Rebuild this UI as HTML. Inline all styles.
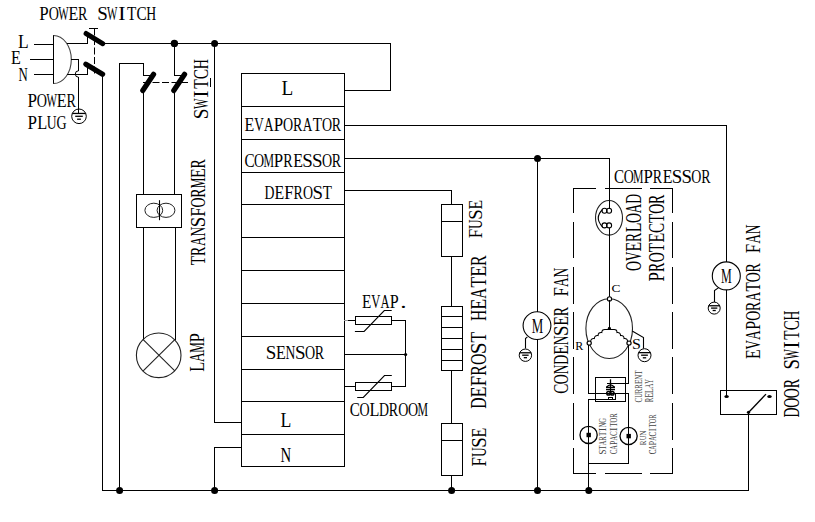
<!DOCTYPE html>
<html><head><meta charset="utf-8"><style>
html,body{margin:0;padding:0;background:#fff;width:815px;height:522px;overflow:hidden}
svg{display:block}
text{font-family:"Liberation Serif",serif;font-size:100px}
</style></head><body>
<svg width="815" height="522" viewBox="0 0 815 522">
<rect x="0" y="0" width="815" height="522" fill="#fff"/>
<g fill="#000">
<rect x="34" y="44" width="20" height="1"/>
<rect x="30" y="59" width="24" height="1"/>
<rect x="34" y="74" width="20" height="1"/>
<rect x="53" y="35" width="1" height="49"/>
<path d="M53.5,35.5 A17.8,24 0 0 1 53.5,83.5" fill="none" stroke="#444" stroke-width="1.1"/>
<rect x="67" y="43" width="21" height="1"/>
<rect x="87" y="36" width="1" height="8"/>
<line x1="86.2" y1="33.6" x2="102.6" y2="43.6" stroke="#000" stroke-width="5.2" stroke-linecap="round"/>
<rect x="89" y="28" width="9" height="1"/>
<line x1="94.5" y1="28.5" x2="94.5" y2="74.5" stroke="#000" stroke-width="1" stroke-dasharray="7,2.5"/>
<line x1="85.9" y1="64.2" x2="102.6" y2="74.2" stroke="#000" stroke-width="5.2" stroke-linecap="round"/>
<rect x="67" y="74" width="21" height="1"/>
<rect x="87" y="67" width="1" height="8"/>
<rect x="102" y="74" width="1" height="417"/>
<rect x="71" y="59" width="8" height="1"/>
<rect x="78" y="59" width="1" height="12"/>
<path d="M78.5,70.8 A3.1,3.1 0 0 0 78.5,77.2" fill="none" stroke="#000" stroke-width="1"/>
<rect x="78" y="77" width="1" height="37"/>
<circle cx="79" cy="116.3" r="7.3" fill="none" stroke="#000" stroke-width="1.0"/>
<line x1="72.211" y1="113.453" x2="85.789" y2="113.453" stroke="#000" stroke-width="1.3" stroke-linecap="butt"/>
<line x1="75.204" y1="116.3" x2="82.796" y2="116.3" stroke="#000" stroke-width="1.3" stroke-linecap="butt"/>
<line x1="77.102" y1="119.22" x2="80.898" y2="119.22" stroke="#000" stroke-width="1.3" stroke-linecap="butt"/>
<rect x="103" y="43" width="288" height="1"/>
<circle cx="174.4" cy="43.4" r="3.7"/>
<circle cx="214.6" cy="43.5" r="3.5"/>
<rect x="390" y="43" width="1" height="48"/>
<rect x="344" y="90" width="47" height="1"/>
<rect x="119" y="63" width="1" height="428"/>
<rect x="119" y="63" width="25" height="1"/>
<rect x="143" y="63" width="1" height="13"/>
<rect x="143" y="75" width="7" height="1"/>
<line x1="142.8" y1="90.5" x2="153.6" y2="74.3" stroke="#000" stroke-width="5.2" stroke-linecap="round"/>
<rect x="143" y="91" width="1" height="104"/>
<rect x="174" y="43" width="1" height="33"/>
<rect x="174" y="75" width="7" height="1"/>
<line x1="173.8" y1="90.5" x2="184.6" y2="74.3" stroke="#000" stroke-width="5.2" stroke-linecap="round"/>
<rect x="174" y="91" width="1" height="104"/>
<line x1="143" y1="82.5" x2="190" y2="82.5" stroke="#000" stroke-width="1" stroke-dasharray="7,2.5"/>
<rect x="136" y="194" width="46" height="1"/>
<rect x="136" y="227" width="46" height="1"/>
<rect x="136" y="194" width="1" height="34"/>
<rect x="181" y="194" width="1" height="34"/>
<ellipse cx="153.8" cy="210.3" rx="8.9" ry="7.1" fill="none" stroke="#222" stroke-width="1.0"/>
<ellipse cx="166.0" cy="210.3" rx="8.9" ry="7.1" fill="none" stroke="#222" stroke-width="1.0"/>
<line x1="159.5" y1="200.2" x2="159.5" y2="220.2" stroke="#000" stroke-width="1.1" stroke-linecap="butt"/>
<rect x="143" y="227" width="1" height="113"/>
<rect x="175" y="227" width="1" height="113"/>
<circle cx="158.7" cy="355.3" r="22.3" fill="none" stroke="#222" stroke-width="1.1"/>
<line x1="143.2" y1="339.7" x2="174.8" y2="370.9" stroke="#222" stroke-width="1.1" stroke-linecap="butt"/>
<line x1="174.8" y1="339.7" x2="143.2" y2="370.9" stroke="#222" stroke-width="1.1" stroke-linecap="butt"/>
<rect x="214" y="43" width="1" height="380"/>
<rect x="214" y="422" width="28" height="1"/>
<rect x="214" y="447" width="28" height="1"/>
<rect x="214" y="447" width="1" height="44"/>
<circle cx="119.6" cy="490.4" r="3.5"/>
<circle cx="214.6" cy="490.4" r="3.5"/>
<rect x="102" y="490" width="647" height="1"/>
<rect x="241" y="73" width="1" height="394"/>
<rect x="344" y="73" width="1" height="394"/>
<rect x="241" y="73" width="104" height="1"/>
<rect x="241" y="106" width="104" height="1"/>
<rect x="241" y="139" width="104" height="1"/>
<rect x="241" y="172" width="104" height="1"/>
<rect x="241" y="204" width="104" height="1"/>
<rect x="241" y="237" width="104" height="1"/>
<rect x="241" y="270" width="104" height="1"/>
<rect x="241" y="303" width="104" height="1"/>
<rect x="241" y="336" width="104" height="1"/>
<rect x="241" y="369" width="104" height="1"/>
<rect x="241" y="401" width="104" height="1"/>
<rect x="241" y="434" width="104" height="1"/>
<rect x="241" y="466" width="104" height="1"/>
<rect x="344" y="125" width="383" height="1"/>
<rect x="726" y="125" width="1" height="137"/>
<rect x="344" y="158" width="266" height="1"/>
<rect x="609" y="158" width="1" height="43"/>
<circle cx="537.5" cy="158.4" r="3.5"/>
<rect x="537" y="158" width="1" height="154"/>
<rect x="537" y="339" width="1" height="152"/>
<circle cx="537.5" cy="490.4" r="3.5"/>
<rect x="344" y="190" width="108" height="1"/>
<rect x="451" y="190" width="1" height="15"/>
<rect x="344" y="320" width="4" height="1" fill="#999"/>
<rect x="348" y="320" width="7" height="1"/>
<rect x="355" y="316" width="37" height="1"/>
<rect x="355" y="324" width="37" height="1"/>
<rect x="355" y="316" width="1" height="9"/>
<rect x="391" y="316" width="1" height="9"/>
<rect x="391" y="320" width="15" height="1"/>
<rect x="405" y="320" width="1" height="67"/>
<path d="M354.9,331.5 H364.1 L384.3,310.5 H391.7" fill="none" stroke="#000" stroke-width="1.1"/>
<rect x="344" y="354" width="62" height="1"/>
<circle cx="405.6" cy="354.5" r="1.6"/>
<rect x="344" y="386" width="12" height="1"/>
<rect x="355" y="382" width="37" height="1"/>
<rect x="355" y="390" width="37" height="1"/>
<rect x="355" y="382" width="1" height="9"/>
<rect x="391" y="382" width="1" height="9"/>
<rect x="391" y="386" width="15" height="1"/>
<path d="M357.2,397.5 H363.3 L384.5,375.5 H391.8" fill="none" stroke="#000" stroke-width="1.1"/>
<rect x="441" y="204" width="22" height="1"/>
<rect x="441" y="256" width="22" height="1"/>
<rect x="441" y="204" width="1" height="53"/>
<rect x="462" y="204" width="1" height="53"/>
<rect x="441" y="221" width="22" height="1"/>
<rect x="451" y="256" width="1" height="51"/>
<rect x="441" y="306" width="22" height="1"/>
<rect x="441" y="370" width="22" height="1"/>
<rect x="441" y="306" width="1" height="65"/>
<rect x="462" y="306" width="1" height="65"/>
<rect x="441" y="316" width="22" height="1"/>
<rect x="441" y="327" width="22" height="1"/>
<rect x="441" y="338" width="22" height="1"/>
<rect x="441" y="349" width="22" height="1"/>
<rect x="441" y="360" width="22" height="1"/>
<rect x="451" y="370" width="1" height="53"/>
<rect x="441" y="423" width="22" height="1"/>
<rect x="441" y="475" width="22" height="1"/>
<rect x="441" y="423" width="1" height="53"/>
<rect x="462" y="423" width="1" height="53"/>
<rect x="441" y="440" width="22" height="1"/>
<rect x="451" y="475" width="1" height="16"/>
<circle cx="451.6" cy="490.4" r="3.5"/>
<circle cx="537" cy="325.6" r="13.9" fill="none" stroke="#000" stroke-width="1.1"/>
<path d="M527.4,336.9 L525.5,338.5 V348.5" fill="none" stroke="#000" stroke-width="1.1"/>
<circle cx="525.4" cy="355.2" r="6.2" fill="none" stroke="#000" stroke-width="1.0"/>
<line x1="519.634" y1="352.782" x2="531.1659999999999" y2="352.782" stroke="#000" stroke-width="1.3" stroke-linecap="butt"/>
<line x1="522.1759999999999" y1="355.2" x2="528.624" y2="355.2" stroke="#000" stroke-width="1.3" stroke-linecap="butt"/>
<line x1="523.788" y1="357.68" x2="527.012" y2="357.68" stroke="#000" stroke-width="1.3" stroke-linecap="butt"/>
<rect x="573" y="188" width="23" height="1"/>
<rect x="573" y="473" width="23" height="1"/>
<rect x="605" y="188" width="37" height="1"/>
<rect x="605" y="473" width="37" height="1"/>
<rect x="650" y="188" width="23" height="1"/>
<rect x="650" y="473" width="23" height="1"/>
<rect x="573" y="188" width="1" height="25"/>
<rect x="672" y="188" width="1" height="25"/>
<rect x="573" y="222" width="1" height="36"/>
<rect x="672" y="222" width="1" height="36"/>
<rect x="573" y="267" width="1" height="37"/>
<rect x="672" y="267" width="1" height="37"/>
<rect x="573" y="312" width="1" height="37"/>
<rect x="672" y="312" width="1" height="37"/>
<rect x="573" y="357" width="1" height="37"/>
<rect x="672" y="357" width="1" height="37"/>
<rect x="573" y="403" width="1" height="37"/>
<rect x="672" y="403" width="1" height="37"/>
<rect x="573" y="448" width="1" height="26"/>
<rect x="672" y="448" width="1" height="26"/>
<ellipse cx="609" cy="217.8" rx="13.5" ry="17.3" fill="none" stroke="#222" stroke-width="1.1"/>
<rect x="609" y="200" width="1" height="9"/>
<circle cx="604.5" cy="210.8" r="2.5" fill="none" stroke="#000" stroke-width="1.1"/>
<circle cx="609.1" cy="210.8" r="2.5" fill="none" stroke="#000" stroke-width="1.1"/>
<circle cx="604.5" cy="225.4" r="2.5" fill="none" stroke="#000" stroke-width="1.1"/>
<circle cx="609.1" cy="225.4" r="2.5" fill="none" stroke="#000" stroke-width="1.1"/>
<path d="M602.5,209.5 Q594,218 602.5,226.8" fill="none" stroke="#000" stroke-width="1.1"/>
<rect x="609" y="228" width="1" height="71"/>
<ellipse cx="609.2" cy="328.6" rx="23.3" ry="29.9" fill="none" stroke="#222" stroke-width="1.1"/>
<circle cx="609.5" cy="298.9" r="2.1" fill="#fff" stroke="#000" stroke-width="1.1"/>
<rect x="609" y="300" width="1" height="29"/>
<circle cx="609.4" cy="328.4" r="1.6"/>
<path d="M605.50,329.50 Q602.00,328.99 601.77,332.52 Q598.27,332.02 598.05,335.55 Q594.55,335.04 594.33,338.58 Q590.82,338.07 590.60,341.60" fill="none" stroke="#000" stroke-width="1.1"/>
<rect x="605" y="329" width="5" height="1"/>
<path d="M613.50,329.50 Q616.96,329.04 617.02,332.52 Q620.48,332.06 620.55,335.55 Q624.01,335.09 624.08,338.58 Q627.53,338.11 627.60,341.60" fill="none" stroke="#000" stroke-width="1.1"/>
<rect x="609" y="329" width="5" height="1"/>
<circle cx="589.2" cy="343.1" r="2.1" fill="#fff" stroke="#000" stroke-width="1.2"/>
<circle cx="629" cy="343.1" r="2.1" fill="#fff" stroke="#000" stroke-width="1.2"/>
<path d="M632.2,331.1 L643.5,337.5 V348.5" fill="none" stroke="#000" stroke-width="1.1"/>
<circle cx="644.5" cy="355.2" r="6.5" fill="none" stroke="#000" stroke-width="1.0"/>
<line x1="638.455" y1="352.66499999999996" x2="650.545" y2="352.66499999999996" stroke="#000" stroke-width="1.3" stroke-linecap="butt"/>
<line x1="641.12" y1="355.2" x2="647.88" y2="355.2" stroke="#000" stroke-width="1.3" stroke-linecap="butt"/>
<line x1="642.81" y1="357.8" x2="646.19" y2="357.8" stroke="#000" stroke-width="1.3" stroke-linecap="butt"/>
<rect x="588" y="345" width="1" height="49"/>
<rect x="588" y="393" width="41" height="1"/>
<rect x="628" y="393" width="1" height="70"/>
<rect x="628" y="345" width="1" height="39"/>
<rect x="607" y="383" width="22" height="1"/>
<rect x="595" y="377" width="31" height="1"/>
<rect x="595" y="401" width="31" height="1"/>
<rect x="595" y="377" width="1" height="25"/>
<rect x="625" y="377" width="1" height="25"/>
<line x1="610.5" y1="379.3" x2="610.5" y2="394.8" stroke="#000" stroke-width="1.3" stroke-linecap="butt"/>
<path d="M606.5,387.3 Q610.5,382.5 614.5,387.3" fill="none" stroke="#000" stroke-width="1.4"/>
<path d="M606,387.5 h9 M606,389.6 h9" fill="none" stroke="#000" stroke-width="1.3"/>
<circle cx="608.5" cy="393.2" r="1.8" fill="none" stroke="#000" stroke-width="1.5"/>
<circle cx="612.3" cy="393.2" r="1.8" fill="none" stroke="#000" stroke-width="1.5"/>
<rect x="588" y="399" width="28" height="1"/>
<rect x="615" y="393" width="1" height="7"/>
<rect x="608" y="397" width="5" height="1"/>
<rect x="608" y="399" width="5" height="1"/>
<rect x="608" y="397" width="1" height="3"/>
<rect x="612" y="397" width="1" height="3"/>
<rect x="588" y="399" width="1" height="92"/>
<circle cx="588.8" cy="490.4" r="3.5"/>
<circle cx="588.6" cy="434.9" r="8.6" fill="none" stroke="#000" stroke-width="1.3"/>
<rect x="586.5" y="432.8" width="4.4" height="4.4"/>
<circle cx="628.6" cy="436.0" r="8.6" fill="none" stroke="#000" stroke-width="1.3"/>
<rect x="626.5" y="433.9" width="4.4" height="4.4"/>
<rect x="588" y="463" width="41" height="1"/>
<rect x="726" y="290" width="1" height="107"/>
<circle cx="726.3" cy="275.9" r="14" fill="none" stroke="#000" stroke-width="1.1"/>
<path d="M719,287.4 L714.5,290.5 V302" fill="none" stroke="#000" stroke-width="1.1"/>
<circle cx="714.2" cy="308.1" r="6.0" fill="none" stroke="#000" stroke-width="1.0"/>
<line x1="708.62" y1="305.76000000000005" x2="719.7800000000001" y2="305.76000000000005" stroke="#000" stroke-width="1.3" stroke-linecap="butt"/>
<line x1="711.08" y1="308.1" x2="717.32" y2="308.1" stroke="#000" stroke-width="1.3" stroke-linecap="butt"/>
<line x1="712.6400000000001" y1="310.5" x2="715.76" y2="310.5" stroke="#000" stroke-width="1.3" stroke-linecap="butt"/>
<rect x="720" y="390" width="57" height="1"/>
<rect x="720" y="414" width="57" height="1"/>
<rect x="720" y="390" width="1" height="25"/>
<rect x="776" y="390" width="1" height="25"/>
<ellipse cx="726.6" cy="396.5" rx="2.2" ry="1.6"/>
<ellipse cx="769.5" cy="396.5" rx="2.2" ry="1.6"/>
<line x1="748.5" y1="412.5" x2="766" y2="394.1" stroke="#000" stroke-width="1.3" stroke-linecap="butt"/>
<circle cx="748.5" cy="412.3" r="1.6"/>
<rect x="748" y="413" width="1" height="78"/>
</g>
<g>
<text transform="translate(39.29,19.60) scale(0.1697,0.1877)">P</text>
<text transform="translate(48.65,19.60) scale(0.1405,0.1877)">O</text>
<text transform="translate(58.29,19.60) scale(0.1101,0.1877)">W</text>
<text transform="translate(68.49,19.60) scale(0.1603,0.1877)">E</text>
<text transform="translate(78.06,19.60) scale(0.1405,0.1877)">R</text>
<text transform="translate(97.15,19.60) scale(0.1904,0.1877)">S</text>
<text transform="translate(107.06,19.60) scale(0.1101,0.1877)">W</text>
<text transform="translate(118.30,19.60) scale(0.2176,0.1877)">I</text>
<text transform="translate(127.11,19.60) scale(0.1522,0.1877)">T</text>
<text transform="translate(136.56,19.60) scale(0.1522,0.1877)">C</text>
<text transform="translate(146.30,19.60) scale(0.1376,0.1877)">H</text>
<text transform="translate(17.88,47.90) scale(0.1750,0.1985)">L</text>
<text transform="translate(11.02,64.30) scale(0.1604,0.1846)">E</text>
<text transform="translate(18.51,81.00) scale(0.1284,0.1892)">N</text>
<text transform="translate(27.39,106.80) scale(0.1708,0.1969)">P</text>
<text transform="translate(36.81,106.80) scale(0.1415,0.1969)">O</text>
<text transform="translate(46.52,106.80) scale(0.1109,0.1969)">W</text>
<text transform="translate(56.79,106.80) scale(0.1614,0.1969)">E</text>
<text transform="translate(66.42,106.80) scale(0.1415,0.1969)">R</text>
<text transform="translate(27.39,128.70) scale(0.1708,0.1923)">P</text>
<text transform="translate(37.16,128.70) scale(0.1636,0.1923)">L</text>
<text transform="translate(46.84,128.70) scale(0.1358,0.1923)">U</text>
<text transform="translate(56.44,128.70) scale(0.1400,0.1923)">G</text>
<text transform="translate(281.62,95.20) scale(0.1923,0.2200)">L</text>
<text transform="translate(244.52,130.60) scale(0.1597,0.1877)">E</text>
<text transform="translate(254.21,130.60) scale(0.1319,0.1877)">V</text>
<text transform="translate(263.93,130.60) scale(0.1319,0.1877)">A</text>
<text transform="translate(273.75,130.60) scale(0.1691,0.1877)">P</text>
<text transform="translate(283.07,130.60) scale(0.1400,0.1877)">O</text>
<text transform="translate(292.94,130.60) scale(0.1400,0.1877)">R</text>
<text transform="translate(302.81,130.60) scale(0.1319,0.1877)">A</text>
<text transform="translate(312.65,130.60) scale(0.1517,0.1877)">T</text>
<text transform="translate(321.96,130.60) scale(0.1400,0.1877)">O</text>
<text transform="translate(331.82,130.60) scale(0.1400,0.1877)">R</text>
<text transform="translate(244.39,166.80) scale(0.1515,0.1938)">C</text>
<text transform="translate(253.99,166.80) scale(0.1399,0.1938)">O</text>
<text transform="translate(263.48,166.80) scale(0.1182,0.1938)">M</text>
<text transform="translate(273.81,166.80) scale(0.1689,0.1938)">P</text>
<text transform="translate(283.27,166.80) scale(0.1399,0.1938)">R</text>
<text transform="translate(293.17,166.80) scale(0.1596,0.1938)">E</text>
<text transform="translate(302.28,166.80) scale(0.1896,0.1938)">S</text>
<text transform="translate(311.99,166.80) scale(0.1896,0.1938)">S</text>
<text transform="translate(321.98,166.80) scale(0.1399,0.1938)">O</text>
<text transform="translate(331.83,166.80) scale(0.1399,0.1938)">R</text>
<text transform="translate(264.59,198.50) scale(0.1374,0.1923)">D</text>
<text transform="translate(274.43,198.50) scale(0.1584,0.1923)">E</text>
<text transform="translate(284.14,198.50) scale(0.1677,0.1923)">F</text>
<text transform="translate(293.53,198.50) scale(0.1389,0.1923)">R</text>
<text transform="translate(303.03,198.50) scale(0.1389,0.1923)">O</text>
<text transform="translate(312.40,198.50) scale(0.1882,0.1923)">S</text>
<text transform="translate(322.72,198.50) scale(0.1504,0.1923)">T</text>
<text transform="translate(265.67,358.60) scale(0.1902,0.1938)">S</text>
<text transform="translate(276.01,358.60) scale(0.1601,0.1938)">E</text>
<text transform="translate(285.51,358.60) scale(0.1361,0.1938)">N</text>
<text transform="translate(294.90,358.60) scale(0.1902,0.1938)">S</text>
<text transform="translate(304.91,358.60) scale(0.1403,0.1938)">O</text>
<text transform="translate(314.80,358.60) scale(0.1403,0.1938)">R</text>
<text transform="translate(280.47,427.10) scale(0.1769,0.2123)">L</text>
<text transform="translate(280.56,461.80) scale(0.1478,0.2123)">N</text>
<text transform="translate(361.94,308.00) scale(0.1523,0.1969)">E</text>
<text transform="translate(371.18,308.00) scale(0.1257,0.1969)">V</text>
<text transform="translate(380.45,308.00) scale(0.1257,0.1969)">A</text>
<text transform="translate(389.81,308.00) scale(0.1612,0.1969)">P</text>
<text transform="translate(400.35,308.00) scale(0.2528,0.1969)">.</text>
<text transform="translate(349.79,415.50) scale(0.1517,0.1892)">C</text>
<text transform="translate(359.41,415.50) scale(0.1401,0.1892)">O</text>
<text transform="translate(369.47,415.50) scale(0.1620,0.1892)">L</text>
<text transform="translate(378.97,415.50) scale(0.1386,0.1892)">D</text>
<text transform="translate(388.72,415.50) scale(0.1401,0.1892)">R</text>
<text transform="translate(398.30,415.50) scale(0.1401,0.1892)">O</text>
<text transform="translate(408.02,415.50) scale(0.1401,0.1892)">O</text>
<text transform="translate(417.52,415.50) scale(0.1183,0.1892)">M</text>
<text transform="translate(614.10,182.50) scale(0.1509,0.1846)">C</text>
<text transform="translate(623.66,182.50) scale(0.1393,0.1846)">O</text>
<text transform="translate(633.11,182.50) scale(0.1177,0.1846)">M</text>
<text transform="translate(643.39,182.50) scale(0.1682,0.1846)">P</text>
<text transform="translate(652.81,182.50) scale(0.1393,0.1846)">R</text>
<text transform="translate(662.67,182.50) scale(0.1589,0.1846)">E</text>
<text transform="translate(671.74,182.50) scale(0.1888,0.1846)">S</text>
<text transform="translate(681.41,182.50) scale(0.1888,0.1846)">S</text>
<text transform="translate(691.36,182.50) scale(0.1393,0.1846)">O</text>
<text transform="translate(701.17,182.50) scale(0.1393,0.1846)">R</text>
<text transform="translate(611.47,291.50) scale(0.1333,0.1092)">C</text>
<text transform="translate(575.14,349.50) scale(0.1203,0.1185)">R</text>
<text transform="translate(631.88,348.50) scale(0.1595,0.1462)">S</text>
<text transform="translate(531.71,332.80) scale(0.1289,0.2062)">M</text>
<text transform="translate(721.04,283.20) scale(0.1205,0.2123)">M</text>
<text transform="translate(207.80,119.15) rotate(-90) scale(0.1930,0.2169)">S</text>
<text transform="translate(207.80,109.10) rotate(-90) scale(0.1116,0.2169)">W</text>
<text transform="translate(207.80,97.72) rotate(-90) scale(0.2206,0.2169)">I</text>
<text transform="translate(207.80,88.79) rotate(-90) scale(0.1543,0.2169)">T</text>
<text transform="translate(207.80,79.21) rotate(-90) scale(0.1543,0.2169)">C</text>
<text transform="translate(207.80,69.33) rotate(-90) scale(0.1395,0.2169)">H</text>
<text transform="translate(205.10,265.30) rotate(-90) scale(0.1514,0.2092)">T</text>
<text transform="translate(205.10,255.88) rotate(-90) scale(0.1397,0.2092)">R</text>
<text transform="translate(205.10,246.02) rotate(-90) scale(0.1316,0.2092)">A</text>
<text transform="translate(205.10,236.53) rotate(-90) scale(0.1355,0.2092)">N</text>
<text transform="translate(205.10,227.18) rotate(-90) scale(0.1894,0.2092)">S</text>
<text transform="translate(205.10,216.82) rotate(-90) scale(0.1687,0.2092)">F</text>
<text transform="translate(205.10,207.51) rotate(-90) scale(0.1397,0.2092)">O</text>
<text transform="translate(205.10,197.67) rotate(-90) scale(0.1397,0.2092)">R</text>
<text transform="translate(205.10,188.33) rotate(-90) scale(0.1181,0.2092)">M</text>
<text transform="translate(205.10,178.08) rotate(-90) scale(0.1594,0.2092)">E</text>
<text transform="translate(205.10,168.56) rotate(-90) scale(0.1397,0.2092)">R</text>
<text transform="translate(204.30,371.69) rotate(-90) scale(0.1619,0.2108)">L</text>
<text transform="translate(204.30,362.02) rotate(-90) scale(0.1318,0.2108)">A</text>
<text transform="translate(204.30,352.82) rotate(-90) scale(0.1182,0.2108)">M</text>
<text transform="translate(204.30,342.49) rotate(-90) scale(0.1690,0.2108)">P</text>
<text transform="translate(481.70,238.30) rotate(-90) scale(0.1671,0.1938)">F</text>
<text transform="translate(481.70,228.88) rotate(-90) scale(0.1329,0.1938)">U</text>
<text transform="translate(481.70,219.74) rotate(-90) scale(0.1875,0.1938)">S</text>
<text transform="translate(481.70,209.54) rotate(-90) scale(0.1579,0.1938)">E</text>
<text transform="translate(485.50,408.77) rotate(-90) scale(0.1566,0.2385)">D</text>
<text transform="translate(485.50,397.55) rotate(-90) scale(0.1805,0.2385)">E</text>
<text transform="translate(485.50,386.49) rotate(-90) scale(0.1911,0.2385)">F</text>
<text transform="translate(485.50,375.79) rotate(-90) scale(0.1583,0.2385)">R</text>
<text transform="translate(485.50,364.96) rotate(-90) scale(0.1583,0.2385)">O</text>
<text transform="translate(485.50,354.27) rotate(-90) scale(0.2145,0.2385)">S</text>
<text transform="translate(485.50,342.51) rotate(-90) scale(0.1715,0.2385)">T</text>
<text transform="translate(485.50,320.89) rotate(-90) scale(0.1550,0.2385)">H</text>
<text transform="translate(485.50,309.64) rotate(-90) scale(0.1805,0.2385)">E</text>
<text transform="translate(485.50,298.70) rotate(-90) scale(0.1491,0.2385)">A</text>
<text transform="translate(485.50,287.57) rotate(-90) scale(0.1715,0.2385)">T</text>
<text transform="translate(485.50,276.68) rotate(-90) scale(0.1805,0.2385)">E</text>
<text transform="translate(485.50,265.90) rotate(-90) scale(0.1583,0.2385)">R</text>
<text transform="translate(486.00,466.51) rotate(-90) scale(0.1685,0.2092)">F</text>
<text transform="translate(486.00,457.01) rotate(-90) scale(0.1339,0.2092)">U</text>
<text transform="translate(486.00,447.80) rotate(-90) scale(0.1891,0.2092)">S</text>
<text transform="translate(486.00,437.51) rotate(-90) scale(0.1591,0.2092)">E</text>
<text transform="translate(567.60,393.70) rotate(-90) scale(0.1512,0.2123)">C</text>
<text transform="translate(567.60,384.13) rotate(-90) scale(0.1396,0.2123)">O</text>
<text transform="translate(567.60,374.35) rotate(-90) scale(0.1353,0.2123)">N</text>
<text transform="translate(567.60,364.63) rotate(-90) scale(0.1381,0.2123)">D</text>
<text transform="translate(567.60,354.73) rotate(-90) scale(0.1592,0.2123)">E</text>
<text transform="translate(567.60,345.29) rotate(-90) scale(0.1353,0.2123)">N</text>
<text transform="translate(567.60,335.96) rotate(-90) scale(0.1891,0.2123)">S</text>
<text transform="translate(567.60,325.67) rotate(-90) scale(0.1592,0.2123)">E</text>
<text transform="translate(567.60,316.17) rotate(-90) scale(0.1396,0.2123)">R</text>
<text transform="translate(567.60,296.54) rotate(-90) scale(0.1685,0.2123)">F</text>
<text transform="translate(567.60,286.95) rotate(-90) scale(0.1314,0.2123)">A</text>
<text transform="translate(567.60,277.47) rotate(-90) scale(0.1353,0.2123)">N</text>
<text transform="translate(641.30,270.95) rotate(-90) scale(0.1380,0.2262)">O</text>
<text transform="translate(641.30,261.08) rotate(-90) scale(0.1299,0.2262)">V</text>
<text transform="translate(641.30,251.47) rotate(-90) scale(0.1574,0.2262)">E</text>
<text transform="translate(641.30,242.08) rotate(-90) scale(0.1380,0.2262)">R</text>
<text transform="translate(641.30,232.30) rotate(-90) scale(0.1596,0.2262)">L</text>
<text transform="translate(641.30,223.06) rotate(-90) scale(0.1380,0.2262)">O</text>
<text transform="translate(641.30,213.19) rotate(-90) scale(0.1299,0.2262)">A</text>
<text transform="translate(641.30,203.78) rotate(-90) scale(0.1365,0.2262)">D</text>
<text transform="translate(663.90,281.41) rotate(-90) scale(0.1691,0.2338)">P</text>
<text transform="translate(663.90,271.94) rotate(-90) scale(0.1400,0.2338)">R</text>
<text transform="translate(663.90,262.35) rotate(-90) scale(0.1400,0.2338)">O</text>
<text transform="translate(663.90,252.22) rotate(-90) scale(0.1517,0.2338)">T</text>
<text transform="translate(663.90,242.58) rotate(-90) scale(0.1597,0.2338)">E</text>
<text transform="translate(663.90,233.08) rotate(-90) scale(0.1517,0.2338)">C</text>
<text transform="translate(663.90,223.05) rotate(-90) scale(0.1517,0.2338)">T</text>
<text transform="translate(663.90,213.74) rotate(-90) scale(0.1400,0.2338)">O</text>
<text transform="translate(663.90,203.88) rotate(-90) scale(0.1400,0.2338)">R</text>
<text transform="translate(759.50,358.97) rotate(-90) scale(0.1580,0.2000)">E</text>
<text transform="translate(759.50,349.39) rotate(-90) scale(0.1305,0.2000)">V</text>
<text transform="translate(759.50,339.78) rotate(-90) scale(0.1305,0.2000)">A</text>
<text transform="translate(759.50,330.06) rotate(-90) scale(0.1673,0.2000)">P</text>
<text transform="translate(759.50,320.83) rotate(-90) scale(0.1385,0.2000)">O</text>
<text transform="translate(759.50,311.08) rotate(-90) scale(0.1385,0.2000)">R</text>
<text transform="translate(759.50,301.31) rotate(-90) scale(0.1305,0.2000)">A</text>
<text transform="translate(759.50,291.57) rotate(-90) scale(0.1500,0.2000)">T</text>
<text transform="translate(759.50,282.37) rotate(-90) scale(0.1385,0.2000)">O</text>
<text transform="translate(759.50,272.61) rotate(-90) scale(0.1385,0.2000)">R</text>
<text transform="translate(759.50,253.13) rotate(-90) scale(0.1673,0.2000)">F</text>
<text transform="translate(759.50,243.61) rotate(-90) scale(0.1305,0.2000)">A</text>
<text transform="translate(759.50,234.20) rotate(-90) scale(0.1343,0.2000)">N</text>
<text transform="translate(798.50,417.41) rotate(-90) scale(0.1380,0.2292)">D</text>
<text transform="translate(798.50,407.85) rotate(-90) scale(0.1394,0.2292)">O</text>
<text transform="translate(798.50,398.17) rotate(-90) scale(0.1394,0.2292)">O</text>
<text transform="translate(798.50,388.35) rotate(-90) scale(0.1394,0.2292)">R</text>
<text transform="translate(798.50,369.40) rotate(-90) scale(0.1890,0.2292)">S</text>
<text transform="translate(798.50,359.57) rotate(-90) scale(0.1093,0.2292)">W</text>
<text transform="translate(798.50,348.42) rotate(-90) scale(0.2160,0.2292)">I</text>
<text transform="translate(798.50,339.68) rotate(-90) scale(0.1511,0.2292)">T</text>
<text transform="translate(798.50,330.30) rotate(-90) scale(0.1511,0.2292)">C</text>
<text transform="translate(798.50,320.62) rotate(-90) scale(0.1366,0.2292)">H</text>
<text transform="translate(642.20,402.39) rotate(-90) scale(0.0713,0.1138)" fill="#444">C</text>
<text transform="translate(642.20,397.77) rotate(-90) scale(0.0632,0.1138)" fill="#444">U</text>
<text transform="translate(642.20,393.23) rotate(-90) scale(0.0659,0.1138)" fill="#444">R</text>
<text transform="translate(642.20,388.66) rotate(-90) scale(0.0659,0.1138)" fill="#444">R</text>
<text transform="translate(642.20,383.99) rotate(-90) scale(0.0751,0.1138)" fill="#444">E</text>
<text transform="translate(642.20,379.54) rotate(-90) scale(0.0639,0.1138)" fill="#444">N</text>
<text transform="translate(642.20,374.81) rotate(-90) scale(0.0713,0.1138)" fill="#444">T</text>
<text transform="translate(652.80,402.30) rotate(-90) scale(0.0666,0.1154)" fill="#444">R</text>
<text transform="translate(652.80,397.59) rotate(-90) scale(0.0759,0.1154)" fill="#444">E</text>
<text transform="translate(652.80,392.96) rotate(-90) scale(0.0770,0.1154)" fill="#444">L</text>
<text transform="translate(652.80,388.36) rotate(-90) scale(0.0627,0.1154)" fill="#444">A</text>
<text transform="translate(652.80,383.73) rotate(-90) scale(0.0633,0.1154)" fill="#444">Y</text>
<text transform="translate(605.80,454.62) rotate(-90) scale(0.0888,0.0969)" fill="#444">S</text>
<text transform="translate(605.80,449.75) rotate(-90) scale(0.0710,0.0969)" fill="#444">T</text>
<text transform="translate(605.80,445.26) rotate(-90) scale(0.0617,0.0969)" fill="#444">A</text>
<text transform="translate(605.80,440.79) rotate(-90) scale(0.0655,0.0969)" fill="#444">R</text>
<text transform="translate(605.80,436.11) rotate(-90) scale(0.0710,0.0969)" fill="#444">T</text>
<text transform="translate(605.80,431.13) rotate(-90) scale(0.1014,0.0969)" fill="#444">I</text>
<text transform="translate(605.80,427.17) rotate(-90) scale(0.0635,0.0969)" fill="#444">N</text>
<text transform="translate(605.80,422.67) rotate(-90) scale(0.0648,0.0969)" fill="#444">G</text>
<text transform="translate(617.10,454.28) rotate(-90) scale(0.0711,0.0938)" fill="#444">C</text>
<text transform="translate(617.10,449.64) rotate(-90) scale(0.0619,0.0938)" fill="#444">A</text>
<text transform="translate(617.10,445.04) rotate(-90) scale(0.0793,0.0938)" fill="#444">P</text>
<text transform="translate(617.10,440.52) rotate(-90) scale(0.0619,0.0938)" fill="#444">A</text>
<text transform="translate(617.10,436.05) rotate(-90) scale(0.0711,0.0938)" fill="#444">C</text>
<text transform="translate(617.10,430.91) rotate(-90) scale(0.1017,0.0938)" fill="#444">I</text>
<text transform="translate(617.10,426.79) rotate(-90) scale(0.0711,0.0938)" fill="#444">T</text>
<text transform="translate(617.10,422.42) rotate(-90) scale(0.0657,0.0938)" fill="#444">O</text>
<text transform="translate(617.10,417.80) rotate(-90) scale(0.0657,0.0938)" fill="#444">R</text>
<text transform="translate(645.50,445.21) rotate(-90) scale(0.0703,0.0738)" fill="#444">R</text>
<text transform="translate(645.50,440.30) rotate(-90) scale(0.0675,0.0738)" fill="#444">U</text>
<text transform="translate(645.50,435.47) rotate(-90) scale(0.0682,0.0738)" fill="#444">N</text>
<text transform="translate(656.00,454.28) rotate(-90) scale(0.0694,0.1031)" fill="#444">C</text>
<text transform="translate(656.00,449.75) rotate(-90) scale(0.0603,0.1031)" fill="#444">A</text>
<text transform="translate(656.00,445.26) rotate(-90) scale(0.0773,0.1031)" fill="#444">P</text>
<text transform="translate(656.00,440.85) rotate(-90) scale(0.0603,0.1031)" fill="#444">A</text>
<text transform="translate(656.00,436.49) rotate(-90) scale(0.0694,0.1031)" fill="#444">C</text>
<text transform="translate(656.00,431.48) rotate(-90) scale(0.0992,0.1031)" fill="#444">I</text>
<text transform="translate(656.00,427.46) rotate(-90) scale(0.0694,0.1031)" fill="#444">T</text>
<text transform="translate(656.00,423.20) rotate(-90) scale(0.0640,0.1031)" fill="#444">O</text>
<text transform="translate(656.00,418.69) rotate(-90) scale(0.0640,0.1031)" fill="#444">R</text>
<rect x="210" y="78" width="1" height="9" fill="#000"/>
</g>
</svg></body></html>
